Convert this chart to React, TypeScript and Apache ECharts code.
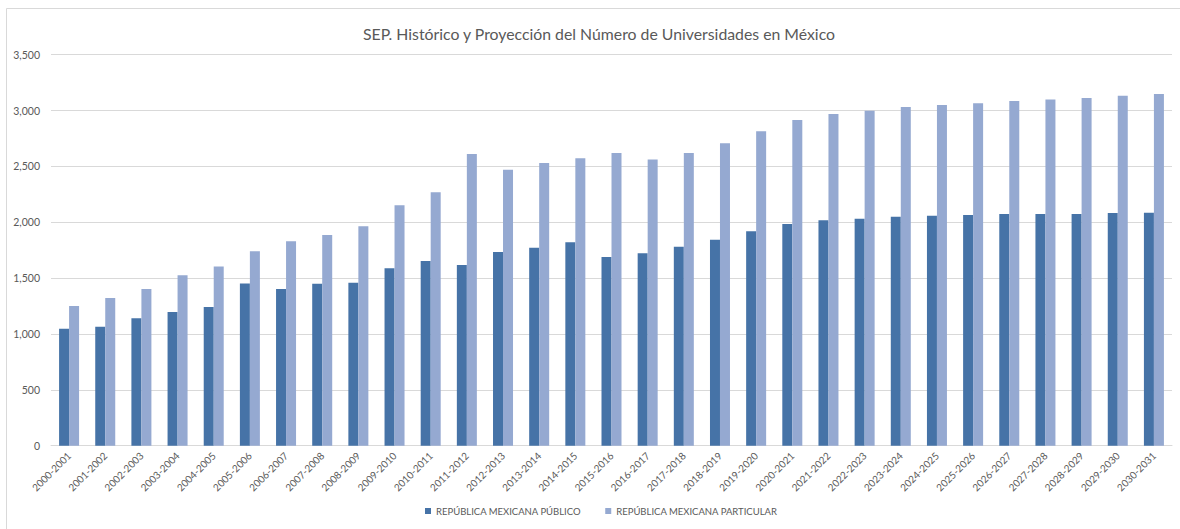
import React, { useEffect, useRef } from "react";
import * as echarts from "echarts";

const categories = [
  "2000-2001", "2001-2002", "2002-2003", "2003-2004", "2004-2005", "2005-2006",
  "2006-2007", "2007-2008", "2008-2009", "2009-2010", "2010-2011", "2011-2012",
  "2012-2013", "2013-2014", "2014-2015", "2015-2016", "2016-2017", "2017-2018",
  "2018-2019", "2019-2020", "2020-2021", "2021-2022", "2022-2023", "2023-2024",
  "2024-2025", "2025-2026", "2026-2027", "2027-2028", "2028-2029", "2029-2030",
  "2030-2031",
];

const publico = [
  1047, 1065, 1140, 1197, 1241, 1453, 1403, 1450, 1459, 1588, 1653, 1617,
  1734, 1772, 1821, 1689, 1722, 1781, 1844, 1919, 1984, 2017, 2032, 2050,
  2059, 2065, 2074, 2074, 2074, 2083, 2086,
];

const particular = [
  1250, 1322, 1403, 1525, 1605, 1740, 1829, 1886, 1964, 2152, 2268, 2611,
  2471, 2530, 2572, 2620, 2563, 2620, 2707, 2814, 2915, 2969, 2999, 3032,
  3050, 3065, 3085, 3100, 3112, 3133, 3148,
];

const seriesNames = ["REPÚBLICA MEXICANA PÚBLICO", "REPÚBLICA MEXICANA PARTICULAR"];
const titleText = "SEP. Histórico y Proyección del Número de Universidades en México";

const FONT = "Lato, 'Open Sans', sans-serif";
const TXT = "#595959";

export default function App() {
  const ref = useRef<HTMLDivElement>(null);
  useEffect(() => {
    if (!ref.current) return;
    const chart = echarts.init(ref.current, undefined, { renderer: "svg" });
    chart.setOption({
      animation: false,
      backgroundColor: "#ffffff",
      textStyle: { fontFamily: FONT },
      title: {
        text: titleText,
        left: 594,
        textAlign: "center",
        top: 20,
        textStyle: { fontFamily: FONT, fontSize: 15.8, fontWeight: "normal", color: TXT },
      },
      graphic: [
        {
          type: "rect",
          shape: { x: 6.5, y: 8.5, width: 1200, height: 600 },
          style: { fill: "none", stroke: "#d9d9d9", lineWidth: 1 },
          silent: true,
          z: -1,
        },
      ],
      legend: {
        bottom: 8,
        left: 420,
        icon: "rect",
        itemWidth: 6,
        itemHeight: 6,
        itemGap: 24,
        textStyle: { fontFamily: FONT, fontSize: 9.5, color: TXT },
        data: seriesNames,
      },
      grid: { left: 51, right: 8, top: 54.7, bottom: 83.3, containLabel: false },
      xAxis: {
        type: "category",
        data: categories,
        axisLine: { lineStyle: { color: "#d9d9d9" } },
        axisTick: { show: false },
        axisLabel: {
          rotate: 45,
          fontFamily: FONT,
          fontSize: 10,
          color: TXT,
          margin: 8,
          interval: 0,
        },
      },
      yAxis: {
        type: "value",
        min: 0,
        max: 3500,
        interval: 500,
        axisLine: { show: false },
        axisTick: { show: false },
        splitLine: { lineStyle: { color: "#d9d9d9", width: 1 } },
        axisLabel: {
          fontFamily: FONT,
          fontSize: 10.5,
          color: TXT,
          margin: 11,
          formatter: (v: number) => v.toLocaleString("en-US"),
        },
      },
      series: [
        {
          name: seriesNames[0],
          type: "bar",
          data: publico,
          barWidth: 10,
          barGap: "0%",
          itemStyle: { color: "#4673A7" },
        },
        {
          name: seriesNames[1],
          type: "bar",
          data: particular,
          barWidth: 10,
          barGap: "0%",
          itemStyle: { color: "#95A9D1" },
        },
      ],
    });
    return () => chart.dispose();
  }, []);
  return (
    <div
      ref={ref}
      style={{ position: "absolute", left: 0, top: 0, width: 1180, height: 529 }}
    />
  );
}
